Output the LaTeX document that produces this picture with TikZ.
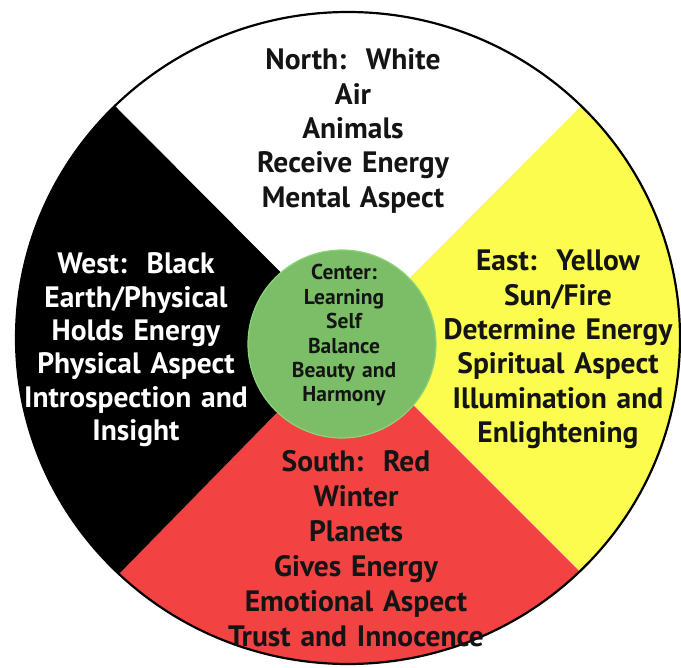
\documentclass[tikz,border=0pt]{standalone}
\usepackage{fontspec}
\setmainfont{PT Sans}
\definecolor{wyellow}{RGB}{252,252,78}
\definecolor{wred}{RGB}{242,66,66}
\definecolor{wgreen}{RGB}{124,190,104}
\definecolor{wgreenedge}{RGB}{140,212,120}
\definecolor{wtext}{RGB}{20,20,20}
\begin{document}
\begin{tikzpicture}[x=1pt,y=-1pt,
  dirtext/.style={text width=300pt,align=center,anchor=base,inner sep=0pt,
    font=\bfseries\fontsize{29.5}{34.3}\selectfont},
  centertext/.style={text width=150pt,align=center,anchor=base,inner sep=0pt,
    font=\bfseries\fontsize{21.5}{24.4}\selectfont, text=wtext}]
\useasboundingbox (0,0) rectangle (681,668);
\fill[white] (0,0) rectangle (681,668);
\coordinate (C) at (348,340);
\coordinate (NW) at (-114,-124);
\coordinate (NE) at (812,-126);
\coordinate (SE) at (834,826);
\coordinate (SW) at (-118,816);
\begin{scope}
  \clip (348,338) ellipse [x radius=332, y radius=326];
  \fill[white] (C) -- (NW) -- (NE) -- cycle;
  \fill[wyellow] (C) -- (NE) -- (SE) -- cycle;
  \fill[wred] (C) -- (SE) -- (SW) -- cycle;
  \fill[black] (C) -- (SW) -- (NW) -- cycle;
\end{scope}
\draw[black,line width=2.2pt] (348,338) ellipse [x radius=332, y radius=326];
\node[circle,minimum size=188pt,fill=wgreen,draw=wgreenedge,line width=1.2pt,inner sep=0pt] (hub) at (342,344) {};
\node[dirtext,text=wtext] (north) at (353,70) {North:\ \ White\\Air\\Animals\\Receive Energy\\Mental Aspect};
\node[dirtext,text=white,font=\bfseries\fontsize{29.5}{33.3}\selectfont] (west) at (136,274) {West:\ \ Black\\Earth/Physical\\Holds Energy\\Physical Aspect\\Introspection and\\Insight};
\node[dirtext,text=wtext] (east) at (558,271) {East:\ \ Yellow\\Sun/Fire\\Determine Energy\\Spiritual Aspect\\Illumination and\\Enlightening};
\node[dirtext,text=wtext,font=\bfseries\fontsize{29.5}{35}\selectfont] (south) at (356,472) {South:\ \ Red\\Winter\\Planets\\Gives Energy\\Emotional Aspect\\Trust and Innocence};
\node[centertext] (center) at (344,280) {Center:\\Learning\\Self\\Balance\\Beauty and\\Harmony};
\end{tikzpicture}
\end{document}
